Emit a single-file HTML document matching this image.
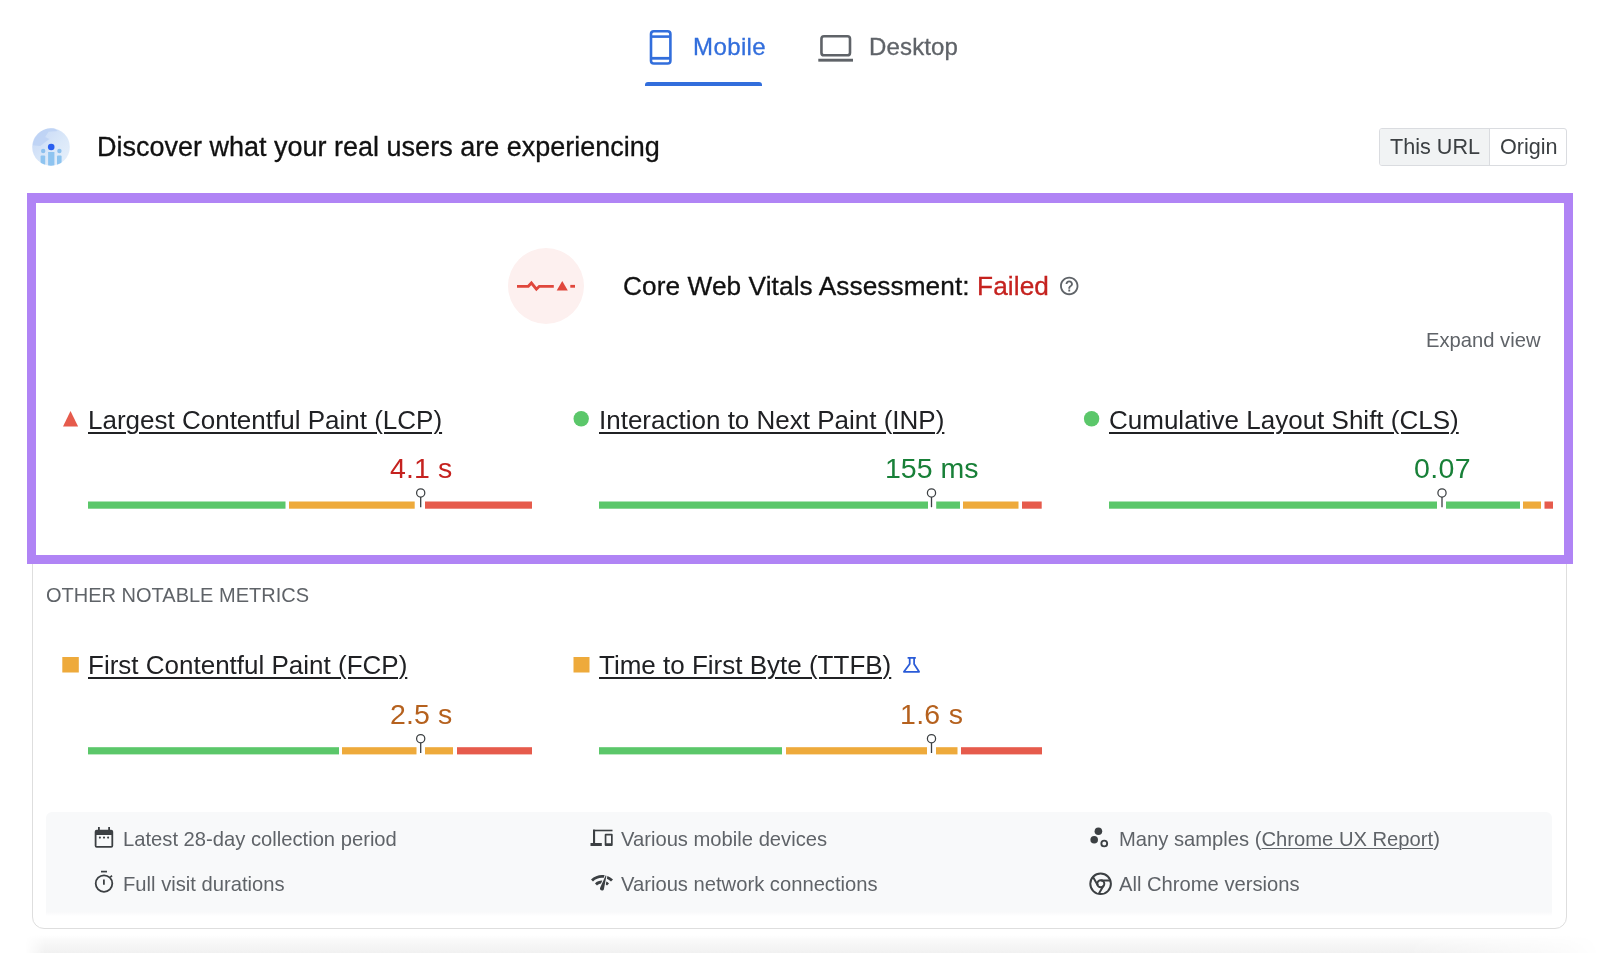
<!DOCTYPE html>
<html><head><meta charset="utf-8"><style>
html,body{margin:0;padding:0;background:#fff;width:1600px;height:953px;overflow:hidden;position:relative}
.abs{position:absolute}
.t{position:absolute;white-space:nowrap;line-height:1;font-family:"Liberation Sans",sans-serif;will-change:transform}
u{text-decoration-thickness:2px;text-underline-offset:2.5px}
u.s{text-decoration-thickness:1.2px;text-underline-offset:1.5px}
svg.ov{position:absolute;left:0;top:0}
</style></head><body>
<div class="abs" style="left:32px;top:198px;width:1533px;height:728.5px;border:1.5px solid #dedede;border-radius:12px;background:#fff"></div>
<div class="abs" style="left:46px;top:812px;width:1506px;height:100px;background:#f8f9fa;border-radius:6px 6px 0 0"></div>
<div class="abs" style="left:46px;top:912px;width:1506px;height:4px;background:linear-gradient(#f9f9fa,#fff)"></div>
<div class="abs" style="left:25px;top:935px;width:1575px;height:18px;background:linear-gradient(#fff,#f9f9f9 30%,#f1f1f1);-webkit-mask-image:linear-gradient(90deg,transparent,#000 20px,#000 1380px,rgba(0,0,0,.3) 1540px,transparent)"></div>
<div class="abs" style="left:27px;top:193px;width:1546px;height:371px;box-sizing:border-box;border:9px solid #b084f5;border-top-width:10px"></div>
<div class="abs" style="left:645px;top:81.75px;width:117px;height:4px;background:#326edc;border-radius:3px 3px 0 0"></div>
<div class="abs" style="left:1379px;top:128px;width:186px;height:36px;border:1px solid #dadce0;border-radius:3px;background:#fff;overflow:hidden">
<div class="abs" style="left:0;top:0;width:109px;height:36px;background:#f1f3f4;border-right:1px solid #dadce0"></div></div>
<div class="t" style="left:692.5px;top:35px;font-size:24px;color:#326edc;letter-spacing:0.4px;-webkit-text-stroke:0.3px #326edc">Mobile</div>
<div class="t" style="left:868.5px;top:35px;font-size:24px;color:#5f6368;letter-spacing:0.15px;-webkit-text-stroke:0.3px #5f6368">Desktop</div>
<div class="t" style="left:96.5px;top:134px;font-size:27px;color:#111;-webkit-text-stroke:0.3px #111">Discover what your real users are experiencing</div>
<div class="t" style="left:1389.5px;top:136px;font-size:21.6px;color:#3c4043;">This URL</div>
<div class="t" style="left:1499.5px;top:136px;font-size:21.6px;color:#3c4043;">Origin</div>
<div class="t" style="left:622.5px;top:273px;font-size:26.2px;color:#111;letter-spacing:0.1px;-webkit-text-stroke:0.3px">Core Web Vitals Assessment: <span style="color:#c5221f">Failed</span></div>
<div class="t" style="left:1426px;top:330px;font-size:20.2px;color:#5f6368;">Expand view</div>
<div class="t" style="left:88px;top:407px;font-size:26px;color:#202124;"><u>Largest Contentful Paint (LCP)</u></div>
<div class="t" style="left:599px;top:407px;font-size:26px;color:#202124;"><u>Interaction to Next Paint (INP)</u></div>
<div class="t" style="left:1109px;top:407px;font-size:26px;color:#202124;"><u>Cumulative Layout Shift (CLS)</u></div>
<div class="t" style="left:389.5px;top:454px;font-size:28.5px;color:#c5221f;letter-spacing:0.1px">4.1 s</div>
<div class="t" style="left:885px;top:454px;font-size:28.5px;color:#188038;letter-spacing:0px">155 ms</div>
<div class="t" style="left:1413.5px;top:454px;font-size:28.5px;color:#188038;letter-spacing:0.4px">0.07</div>
<div class="t" style="left:46px;top:585px;font-size:20px;color:#5f6368;">OTHER NOTABLE METRICS</div>
<div class="t" style="left:88px;top:652px;font-size:26px;color:#202124;"><u>First Contentful Paint (FCP)</u></div>
<div class="t" style="left:599px;top:652px;font-size:26px;color:#202124;"><u>Time to First Byte (TTFB)</u></div>
<div class="t" style="left:389.5px;top:700px;font-size:28.5px;color:#b5611e;letter-spacing:0.1px">2.5 s</div>
<div class="t" style="left:900px;top:700px;font-size:28.5px;color:#b5611e;letter-spacing:0.3px">1.6 s</div>
<div class="t" style="left:123px;top:829px;font-size:20.2px;color:#5f6368;">Latest 28-day collection period</div>
<div class="t" style="left:123px;top:874px;font-size:20.2px;color:#5f6368;">Full visit durations</div>
<div class="t" style="left:621px;top:829px;font-size:20.2px;color:#5f6368;">Various mobile devices</div>
<div class="t" style="left:621px;top:874px;font-size:20.2px;color:#5f6368;">Various network connections</div>
<div class="t" style="left:1118.5px;top:829px;font-size:20.2px;color:#5f6368;">Many samples (<u class="s">Chrome UX Report</u>)</div>
<div class="t" style="left:1118.5px;top:874px;font-size:20.2px;color:#5f6368;">All Chrome versions</div>
<svg class="ov" width="1600" height="953" viewBox="0 0 1600 953">
<rect x="651" y="31.3" width="19.4" height="32.2" rx="2.8" fill="none" stroke="#326edc" stroke-width="2.6"/>
<rect x="650" y="35.3" width="21" height="2.6" fill="#326edc"/>
<rect x="650" y="56.9" width="21" height="2.8" fill="#326edc"/>
<rect x="821.45" y="36.2" width="28.55" height="19.1" rx="2.6" fill="none" stroke="#5f6368" stroke-width="2.6"/>
<rect x="818.3" y="58.75" width="34.7" height="2.9" fill="#5f6368"/>
<defs><linearGradient id="cg" x1="0" y1="0" x2="1" y2="1"><stop offset="0" stop-color="#c4d7f6"/><stop offset="0.6" stop-color="#dce9f9"/><stop offset="1" stop-color="#e8f1fb"/></linearGradient>
<clipPath id="cc"><circle cx="51" cy="147" r="18.8"/></clipPath></defs>
<circle cx="51" cy="147" r="18.8" fill="url(#cg)"/>
<g clip-path="url(#cc)">
<path d="M32.6 145.3 C34.3 135.2 41.8 128 53.6 128 L57.8 131 L48.5 131.8 L45.2 136.9 L49.4 139 L40.2 146.1 Z" fill="#bcd1f4" opacity="0.8"/>
<rect x="48.1" y="152" width="6.3" height="16" fill="#8ec4f0"/>
<rect x="40.6" y="155.6" width="4.6" height="12" rx="1" fill="#8ec4f0"/>
<rect x="57" y="155.6" width="4.6" height="12" rx="1" fill="#8ec4f0"/>
</g>
<circle cx="51.2" cy="147" r="3.3" fill="#2a5ff0"/>
<circle cx="43.2" cy="151" r="2.2" fill="#8cc0ee"/>
<circle cx="59.4" cy="151" r="2.2" fill="#8cc0ee"/>
<circle cx="546" cy="286" r="38" fill="#fdf0ef"/>
<path d="M517 286.3 H528.3 L531.4 283 L536.4 289.2 L539.3 286.3 H553.8" fill="none" stroke="#e0473c" stroke-width="2.8"/>
<path d="M556.7 290.5 L562.25 281 L567.8 290.5 Z" fill="#e0473c"/>
<rect x="570.3" y="284.9" width="4.7" height="2.8" fill="#e0473c"/>
<path transform="translate(1058.2 274.9) scale(0.92)" fill="#5f6368" d="M11 18h2v-2h-2v2zm1-16C6.48 2 2 6.48 2 12s4.48 10 10 10 10-4.48 10-10S17.52 2 12 2zm0 18c-4.41 0-8-3.59-8-8s3.59-8 8-8 8 3.59 8 8-3.59 8-8 8zm0-14c-2.21 0-4 1.79-4 4h2c0-1.1.9-2 2-2s2 .9 2 2c0 2-3 1.75-3 5h2c0-2.25 3-2.5 3-5 0-2.21-1.79-4-4-4z"/>
<path d="M70.5 411.1 L78.1 426.4 L63 426.4 Z" fill="#e65b4c"/>
<circle cx="581.2" cy="418.8" r="7.7" fill="#5bc76a"/>
<circle cx="1091.6" cy="418.8" r="7.7" fill="#5bc76a"/>
<rect x="62.3" y="657" width="16.5" height="15.5" fill="#eeaa3b"/>
<rect x="573.5" y="657" width="16" height="15.5" fill="#eeaa3b"/>
<path d="M907.6 657.9 H915.8 M909.7 658 V664 L903.9 671.8 H919.1 L914.1 664 V658" fill="none" stroke="#2a5bd7" stroke-width="1.75" stroke-linejoin="round"/>
<rect x="88" y="501.5" width="197.5" height="7.2" fill="#5bc76a"/>
<rect x="289" y="501.5" width="125.69999999999999" height="7.2" fill="#eeaa3b"/>
<rect x="425" y="501.5" width="107" height="7.2" fill="#e65b4c"/>
<rect x="599" y="501.5" width="329" height="7.2" fill="#5bc76a"/>
<rect x="936.2" y="501.5" width="23.799999999999955" height="7.2" fill="#5bc76a"/>
<rect x="963" y="501.5" width="55.5" height="7.2" fill="#eeaa3b"/>
<rect x="1022" y="501.5" width="19.700000000000045" height="7.2" fill="#e65b4c"/>
<rect x="1109" y="501.5" width="328" height="7.2" fill="#5bc76a"/>
<rect x="1446" y="501.5" width="74" height="7.2" fill="#5bc76a"/>
<rect x="1523" y="501.5" width="18" height="7.2" fill="#eeaa3b"/>
<rect x="1544.5" y="501.5" width="8.5" height="7.2" fill="#e65b4c"/>
<circle cx="420.7" cy="492.9" r="4.1" fill="#fff" stroke="#3c4043" stroke-width="1.25"/><line x1="420.7" y1="497.0" x2="420.7" y2="507.2" stroke="#3c4043" stroke-width="1.3"/>
<circle cx="931.5" cy="492.9" r="4.1" fill="#fff" stroke="#3c4043" stroke-width="1.25"/><line x1="931.5" y1="497.0" x2="931.5" y2="507.2" stroke="#3c4043" stroke-width="1.3"/>
<circle cx="1442" cy="492.9" r="4.1" fill="#fff" stroke="#3c4043" stroke-width="1.25"/><line x1="1442" y1="497.0" x2="1442" y2="507.2" stroke="#3c4043" stroke-width="1.3"/>
<rect x="88" y="747.2" width="251" height="7.2" fill="#5bc76a"/>
<rect x="342" y="747.2" width="74.5" height="7.2" fill="#eeaa3b"/>
<rect x="425" y="747.2" width="28" height="7.2" fill="#eeaa3b"/>
<rect x="457" y="747.2" width="75" height="7.2" fill="#e65b4c"/>
<rect x="599" y="747.2" width="183" height="7.2" fill="#5bc76a"/>
<rect x="786" y="747.2" width="141" height="7.2" fill="#eeaa3b"/>
<rect x="936" y="747.2" width="21.5" height="7.2" fill="#eeaa3b"/>
<rect x="961" y="747.2" width="81" height="7.2" fill="#e65b4c"/>
<circle cx="420.7" cy="738.7" r="4.1" fill="#fff" stroke="#3c4043" stroke-width="1.25"/><line x1="420.7" y1="742.8000000000001" x2="420.7" y2="753.0" stroke="#3c4043" stroke-width="1.3"/>
<circle cx="931.5" cy="738.7" r="4.1" fill="#fff" stroke="#3c4043" stroke-width="1.25"/><line x1="931.5" y1="742.8000000000001" x2="931.5" y2="753.0" stroke="#3c4043" stroke-width="1.3"/>
<g fill="#3c4043">
<path d="M94.7 831.7 a2 2 0 0 1 2 -2 H111.2 a2 2 0 0 1 2 2 V845.7 a2 2 0 0 1 -2 2 H96.7 a2 2 0 0 1 -2 -2 Z M96.5 835 V845.9 H111.4 V835 Z" fill-rule="evenodd"/>
<rect x="98" y="827" width="1.8" height="3"/><rect x="108.2" y="827" width="1.8" height="3"/>
<circle cx="99.9" cy="837.6" r="1.05"/><circle cx="104" cy="837.6" r="1.05"/><circle cx="108.1" cy="837.6" r="1.05"/>
</g>
<g fill="none" stroke="#3c4043">
<circle cx="104" cy="883.6" r="8.3" stroke-width="1.8"/>
<line x1="101" y1="871.6" x2="107" y2="871.6" stroke-width="1.7"/>
<line x1="103.9" y1="879.4" x2="103.9" y2="884.8" stroke-width="1.8"/>
<line x1="110.3" y1="877.3" x2="112" y2="875.6" stroke-width="1.6"/>
</g>
<g fill="#3c4043"><rect x="593" y="829.7" width="19.5" height="1.6"/><rect x="593" y="829.7" width="2.1" height="14"/><rect x="590.5" y="843" width="11.3" height="3"/>
<path d="M605.7 833.8 h6 a1 1 0 0 1 1 1 V845 a1 1 0 0 1 -1 1 h-6 a1 1 0 0 1 -1 -1 V834.8 a1 1 0 0 1 1 -1 Z M606.4 835.5 V843.3 H611 V835.5 Z" fill-rule="evenodd"/></g>
<path transform="translate(590 870.5)" fill="#3c4043" d="M15.9 5c-.17 0-.32.09-.41.23l-.07.15-5.18 11.65c-.16.29-.26.61-.26.96 0 1.11.9 2.01 2.01 2.01.96 0 1.77-.68 1.96-1.590l.01-.03L16.4 5.5c0-.28-.22-.5-.5-.5zM1 9l2 2c2.880-2.88 6.79-4.080 10.53-3.62l1.19-2.68C9.89 3.84 4.74 5.27 1 9zm20 2l2-2c-1.64-1.64-3.55-2.82-5.59-3.57l-.53 2.82c1.5.62 2.9 1.53 4.12 2.75zm-4 4l2-2c-.8-.8-1.7-1.42-2.66-1.89l-.55 2.92c.42.27.83.59 1.21.97zM5 13l2 2c1.13-1.13 2.56-1.79 4.03-2l1.28-2.88c-2.74-.08-5.51.86-7.31 2.88z"/>
<circle cx="1098.4" cy="831.3" r="3.8" fill="#3c4043"/>
<circle cx="1094.2" cy="839.7" r="3.8" fill="#3c4043"/>
<circle cx="1104.25" cy="843.5" r="2.9" fill="none" stroke="#3c4043" stroke-width="1.9"/>
<g fill="none" stroke="#3c4043" stroke-width="2">
<circle cx="1100.6" cy="883.8" r="10.3"/>
<circle cx="1100.8" cy="883.8" r="3.5"/>
<path d="M1100.8 880.5 H1110.4 M1097.9 885.4 L1093 877 M1103.6 885.5 L1098.8 893.8"/>
</g>
</svg>
</body></html>
